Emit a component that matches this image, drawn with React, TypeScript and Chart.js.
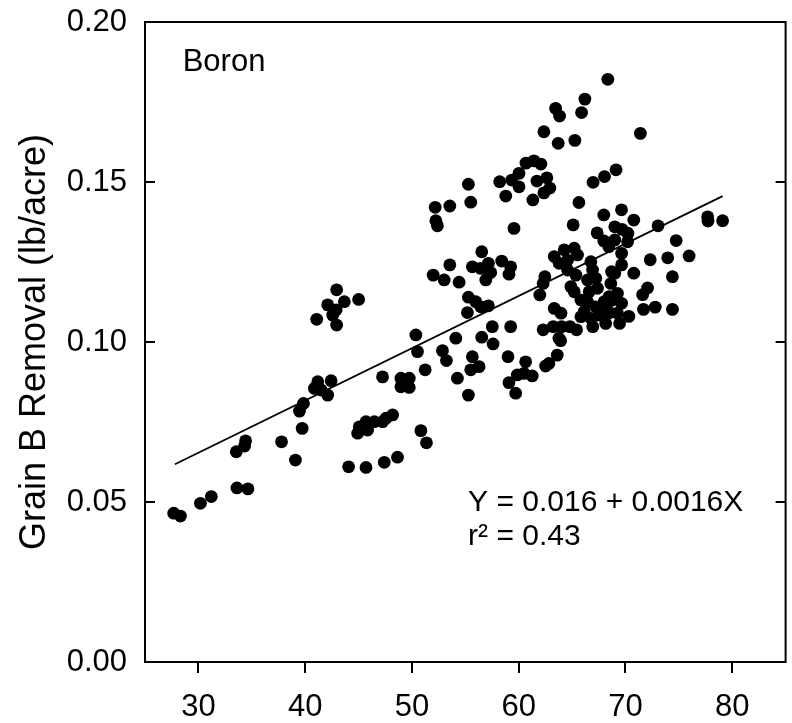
import React, { useEffect, useRef } from "react";
import { Chart, registerables } from "chart.js";

Chart.register(...registerables);

// Grain yield (x) vs grain B removal (y, lb/acre)
const xValues: number[] = [
  27.69, 28.32, 30.19, 31.21, 33.55, 34.42, 34.33, 33.61, 34.64, 37.79,
  39.09, 39.72, 39.47, 39.84, 42.95, 43.67, 42.11, 42.9, 45.01, 41.08,
  42.95, 42.58, 41.18, 42.43, 40.87, 41.5, 42.11, 44.92, 45.07, 45.7,
  45.85, 46.48, 47.25, 47.57, 48.19, 44.07, 45.7, 47.41, 48.65, 47.25,
  48.97, 49.75, 48.97, 49.75, 50.52, 50.37, 50.84, 51.36, 51.24, 55.29,
  55.98, 56.45, 57.16, 55.2, 54.11, 52.86, 53.23, 56.54, 57.53, 57.6,
  59.25, 55.66, 56.29, 55.51, 54.26, 55.29, 59.0, 59.09, 59.72, 59.87,
  60.65, 60.5, 61.27, 62.52, 62.83, 63.61, 63.93, 55.29, 55.51, 52.18,
  53.55, 52.24, 52.39, 58.22, 59.35, 58.79, 60.03, 60.03, 59.56, 56.54,
  53.55, 51.99, 53.02, 54.42, 55.66, 56.45, 57.16, 57.38, 56.92, 58.41,
  59.25, 59.09, 68.35, 66.2, 65.89, 63.46, 63.83, 62.36, 63.7, 65.26,
  71.4, 69.12, 68.04, 66.97, 60.68, 61.43, 62.08, 61.71, 62.64, 62.92,
  62.36, 61.33, 65.64, 65.1, 67.97, 69.63, 70.78, 69.0, 69.68, 67.35,
  67.97, 68.44, 73.05, 77.7, 77.73, 79.1, 74.75, 75.96, 73.96, 72.32,
  74.4, 72.07, 71.61, 72.79, 71.69, 74.4, 70.2, 69.64, 69.64, 70.78,
  68.7, 70.32, 69.45, 68.15, 66.94, 69.64, 68.4, 63.33, 64.27, 65.2,
  65.51, 64.58, 63.79, 66.76, 66.92, 69.0, 70.23, 69.0, 62.45, 62.29,
  61.98, 64.58, 65.36, 64.89, 65.2, 66.45, 67.22, 67.38, 66.6, 68.63,
  69.25, 68.47, 65.83, 66.45, 67.22, 68.0, 68.79, 63.33, 63.96, 66.14,
  65.83, 66.76, 67.54, 68.32, 69.25, 62.29, 63.23, 64.02, 64.8, 65.42,
  63.77,
];

const yValues: number[] = [
  0.0465, 0.0456, 0.0496, 0.0517, 0.0657, 0.0691, 0.0675, 0.0544, 0.0541, 0.0688,
  0.0631, 0.073, 0.0784, 0.0808, 0.1163, 0.1126, 0.1116, 0.11, 0.1133, 0.1071,
  0.1053, 0.1084, 0.0876, 0.0879, 0.0855, 0.085, 0.0834, 0.0715, 0.0735, 0.0751,
  0.0725, 0.0751, 0.0751, 0.0762, 0.0772, 0.061, 0.0608, 0.0624, 0.064, 0.0891,
  0.0887, 0.0887, 0.086, 0.0858, 0.097, 0.1022, 0.0723, 0.0685, 0.0913, 0.114,
  0.1126, 0.111, 0.1113, 0.1092, 0.1012, 0.0973, 0.0942, 0.1015, 0.1048, 0.0994,
  0.1048, 0.0954, 0.0923, 0.0913, 0.0887, 0.0834, 0.0954, 0.0873, 0.084, 0.0897,
  0.0938, 0.0902, 0.0894, 0.0925, 0.0933, 0.0959, 0.1004, 0.1493, 0.1437, 0.1421,
  0.1425, 0.1379, 0.1363, 0.1501, 0.1506, 0.1456, 0.1527, 0.1485, 0.1355, 0.1282,
  0.1241, 0.1209, 0.1194, 0.1187, 0.1235, 0.123, 0.1246, 0.1217, 0.1194, 0.1253,
  0.1235, 0.1212, 0.1821, 0.1759, 0.1717, 0.173, 0.1706, 0.1657, 0.1621, 0.163,
  0.1652, 0.1538, 0.1517, 0.1499, 0.1559, 0.1566, 0.1556, 0.1503, 0.1513, 0.1481,
  0.1466, 0.1444, 0.1436, 0.1366, 0.1397, 0.1413, 0.1381, 0.136, 0.1352, 0.1341,
  0.1316, 0.1298, 0.1363, 0.1391, 0.1378, 0.1379, 0.1317, 0.1269, 0.1263, 0.1257,
  0.1204, 0.1169, 0.1148, 0.1109, 0.1102, 0.1102, 0.1313, 0.1277, 0.1241, 0.1215,
  0.122, 0.108, 0.1058, 0.1058, 0.1048, 0.1121, 0.109, 0.1267, 0.1288, 0.1293,
  0.1272, 0.1256, 0.1246, 0.1251, 0.1225, 0.1319, 0.134, 0.1215, 0.1204, 0.1183,
  0.1147, 0.1225, 0.1209, 0.1173, 0.1157, 0.1194, 0.1199, 0.1168, 0.1157, 0.1183,
  0.1152, 0.1142, 0.1131, 0.1126, 0.111, 0.1126, 0.1131, 0.1105, 0.109, 0.1095,
  0.1079, 0.1074, 0.1084, 0.11, 0.109, 0.1038, 0.1048, 0.1048, 0.1048, 0.1038,
  0.1012,
];

// Regression line end points
const fitX: number[] = [27.8, 79.1];
const fitY: number[] = [0.0618, 0.1456];

const xTicks: number[] = [30, 40, 50, 60, 70, 80];
const yTicks: number[] = [0.0, 0.05, 0.1, 0.15, 0.2];
const X_MIN = 25;
const X_MAX = 85;
const Y_MIN = 0;
const Y_MAX = 0.2;

const yTitle = "Grain B Removal (lb/acre)";
const panelLabel = "Boron";
const eqLine1 = "Y = 0.016 + 0.0016X";
const eqLine2 = "r\u00B2 = 0.43";

const FONT = '"Liberation Sans", Arial, sans-serif';

const framePlugin = {
  id: "frameAndText",
  afterDraw(chart: any) {
    const { ctx, chartArea: a } = chart;
    const xs = chart.scales.x;
    const ys = chart.scales.y;
    ctx.save();
    ctx.strokeStyle = "#000";
    ctx.lineWidth = 2;
    ctx.strokeRect(a.left, a.top, a.right - a.left, a.bottom - a.top);
    ctx.beginPath();
    for (const v of yTicks) {
      if (v <= Y_MIN || v >= Y_MAX) continue;
      const py = Math.round(ys.getPixelForValue(v));
      ctx.moveTo(a.left, py);
      ctx.lineTo(a.left + 10, py);
      ctx.moveTo(a.right, py);
      ctx.lineTo(a.right - 10, py);
    }
    for (const v of xTicks) {
      const px = Math.round(xs.getPixelForValue(v));
      ctx.moveTo(px, a.bottom);
      ctx.lineTo(px, a.bottom + 11);
    }
    ctx.stroke();

    ctx.fillStyle = "#000";
    ctx.textAlign = "left";
    ctx.textBaseline = "middle";
    ctx.font = `31px ${FONT}`;
    ctx.fillText(panelLabel, xs.getPixelForValue(28.53), ys.getPixelForValue(0.1875));
    ctx.font = `30px ${FONT}`;
    const ex = xs.getPixelForValue(55.26);
    ctx.fillText(eqLine1, ex, ys.getPixelForValue(0.0497));
    ctx.fillText(eqLine2, ex, ys.getPixelForValue(0.0391));
    ctx.restore();
  },
};

export default function App() {
  const ref = useRef<HTMLCanvasElement | null>(null);

  useEffect(() => {
    if (!ref.current) return;
    const points = xValues.map((x, i) => ({ x, y: yValues[i] }));
    const fit = fitX.map((x, i) => ({ x, y: fitY[i] }));
    const chart = new Chart(ref.current, {
      type: "scatter",
      data: {
        datasets: [
          {
            type: "line",
            data: fit,
            borderColor: "#000",
            borderWidth: 1.8,
            pointRadius: 0,
            fill: false,
            order: 2,
          } as any,
          {
            data: points,
            backgroundColor: "#000",
            borderWidth: 0,
            pointRadius: 6.4,
            pointHoverRadius: 6.4,
            order: 1,
          },
        ],
      },
      options: {
        responsive: false,
        animation: false,
        devicePixelRatio: 1,
        layout: { padding: { top: 22, right: 5, left: 0, bottom: 0 } },
        plugins: { legend: { display: false }, tooltip: { enabled: false } },
        scales: {
          x: {
            type: "linear",
            min: X_MIN,
            max: X_MAX,
            grid: { display: false, drawTicks: false },
            border: { display: false },
            afterBuildTicks: (s: any) => {
              s.ticks = xTicks.map((v) => ({ value: v }));
            },
            afterFit: (s: any) => {
              s.height = 61;
              s.paddingLeft = 0;
              s.paddingRight = 0;
            },
            ticks: {
              padding: 27,
              color: "#000",
              font: { family: FONT, size: 31 },
              maxRotation: 0,
              autoSkip: false,
              callback: (v: any) => String(v),
            },
          },
          y: {
            type: "linear",
            min: Y_MIN,
            max: Y_MAX,
            grid: { display: false, drawTicks: false },
            border: { display: false },
            afterBuildTicks: (s: any) => {
              s.ticks = yTicks.map((v) => ({ value: v }));
            },
            afterFit: (s: any) => {
              s.width = 145;
              s.paddingTop = 0;
              s.paddingBottom = 0;
            },
            ticks: {
              padding: 18,
              color: "#000",
              font: { family: FONT, size: 31 },
              autoSkip: false,
              callback: (v: any) => Number(v).toFixed(2),
            },
            title: {
              display: true,
              text: yTitle,
              color: "#000",
              font: { family: FONT, size: 36, weight: "normal" },
              padding: { top: 13, bottom: 0 },
            },
          },
        },
      },
      plugins: [framePlugin],
    });
    return () => chart.destroy();
  }, []);

  return (
    <div style={{ position: "absolute", left: 0, top: 0, width: 792, height: 723, background: "#fff" }}>
      <canvas ref={ref} width={792} height={723} style={{ display: "block" }} />
    </div>
  );
}
